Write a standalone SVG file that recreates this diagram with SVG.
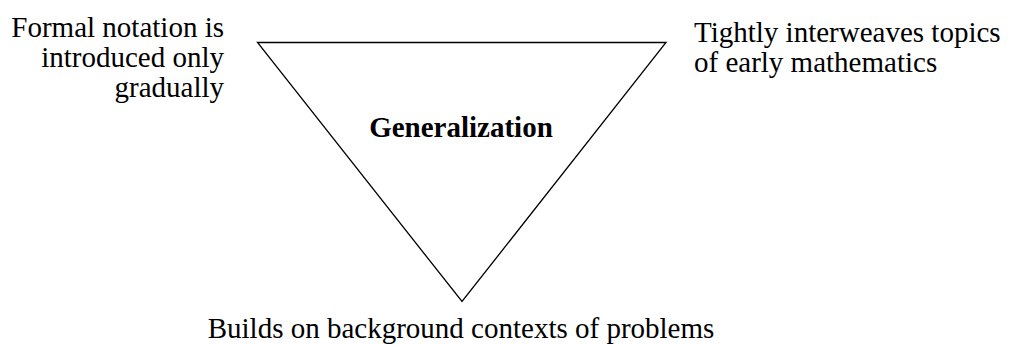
<svg xmlns="http://www.w3.org/2000/svg" width="1009" height="345" viewBox="0 0 1009 345">
<style>
.edge{fill:none;stroke:#000;stroke-width:1.3}
</style>
<rect width="1009" height="345" fill="#fff"/>
<g id="triangle" font-family="'Liberation Serif', serif" font-size="29" fill="#000">
<polygon class="edge" points="257.5,42.5 666,42.5 462,301.5"/>
<text x="461" y="137" text-anchor="middle" font-weight="bold">Generalization</text>
</g>
<g id="label-left" font-family="'Liberation Serif', serif" font-size="29" fill="#000" text-anchor="end">
<text x="224" y="37">Formal notation is</text>
<text x="224" y="67">introduced only</text>
<text x="224" y="97">gradually</text>
</g>
<g id="label-right" font-family="'Liberation Serif', serif" font-size="29" fill="#000">
<text x="694" y="42">Tightly interweaves topics</text>
<text x="694" y="72">of early mathematics</text>
</g>
<g id="label-bottom" font-family="'Liberation Serif', serif" font-size="29" fill="#000">
<text x="461" y="338" text-anchor="middle">Builds on background contexts of problems</text>
</g>
<g id="connectors"/>
</svg>
